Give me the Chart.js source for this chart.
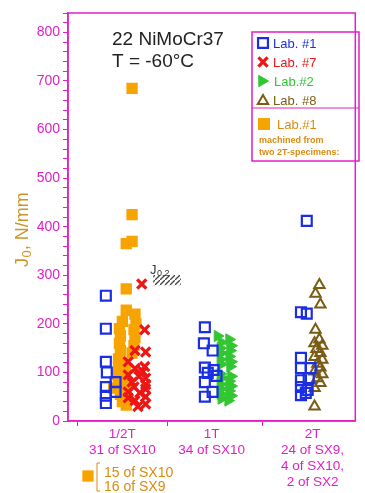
<!DOCTYPE html>
<html>
<head>
<meta charset="utf-8">
<script src="https://cdn.jsdelivr.net/npm/chart.js@4.4.0/dist/chart.umd.min.js"></script>
<style>
  html, body { margin: 0; padding: 0; background: #fff; }
  #wrap { width: 365px; height: 493px; }
</style>
</head>
<body>
<div id="wrap"><canvas id="jChart" width="365" height="493"></canvas></div>
<script>
// specimen groups on the x axis
const groupLabels = [
    ['1/2T', '31 of SX10'],
    ['1T', '34 of SX10'],
    ['2T', '24 of SX9,', '4 of SX10,', '2 of SX2']
];
const groupPos = [56, 148, 252];

// Lab #1 (hollow blue squares)
const lab1X = [39, 39, 39, 40, 49, 39, 49, 39, 39,
    141, 140, 149, 141, 150, 144, 153, 141, 149, 141,
    246, 240, 246, 240, 240, 250, 240, 248, 240, 247, 240, 245];
const lab1J = [258, 190, 122, 100, 80, 70, 60, 52, 37,
    193, 160, 145, 110, 105, 99, 93, 80, 60, 50,
    412, 224, 221, 130, 109, 109, 84, 88, 70, 64, 53, 58];

// Lab #7 (red crosses), 1/2T only
const lab7X = [76, 79, 69, 80, 62, 79, 69, 62, 73, 80, 66, 80, 68, 80, 62, 74, 80, 62, 69, 80, 72, 77];
const lab7J = [282, 188, 145, 142, 122, 112, 108, 95, 92, 88, 80, 75, 70, 66, 60, 58, 50, 48, 42, 35, 30, 102];

// Lab #2 (green triangles), 1T only
const lab2X = [154, 166, 158, 168, 157, 167, 158, 166, 157, 168, 158, 167,
    157, 168, 158, 166, 157, 168, 158, 166, 157, 168, 158, 165];
const lab2J = [175, 168, 162, 155, 150, 145, 140, 133, 127, 122, 117, 112,
    97, 92, 88, 82, 76, 72, 66, 62, 56, 52, 46, 42];

// Lab #8 (hollow brown triangles), 2T only
const lab8X = [259, 255, 260, 255, 259, 254, 262, 256, 260, 254, 262, 257, 260, 254, 262, 257, 260, 254, 254];
const lab8J = [280, 262, 240, 188, 168, 160, 155, 148, 140, 132, 126, 118, 110, 102, 96, 88, 78, 68, 30];

// Lab #1 machined from two 2T specimens (orange squares), 1/2T
const lab1mX = [66, 66, 66, 60, 60,
    60, 69, 56, 70, 53, 68, 54, 69, 53, 68, 54, 66, 52, 58, 52, 59, 50, 58, 52, 59, 47, 56, 54, 60, 56, 60];
const lab1mJ = [685, 425, 370, 365, 272,
    228, 220, 205, 200, 190, 188, 175, 172, 160, 155, 145, 140, 128, 120, 112, 102, 95, 88, 80, 75, 68, 62, 55, 48, 40, 33];

// J0.2 band
const jBandX = [102];
const jBandRange = [[280, 300]];

const MAGENTA = '#e21fc6';
const BLUE = '#1a2ee6';
const RED = '#ee1515';
const GREEN = '#33c633';
const BROWN = '#7a5c14';
const ORANGE = '#f7a300';
const ORANGE_TXT = '#d98c12';
const FONT = '"Liberation Sans", Arial, sans-serif';

const pts = (xs, ys) => xs.map((x, i) => ({ x: x, y: ys[i] }));

// hatch for the J0.2 band
const hatch = document.createElement('canvas');
hatch.width = 5;
hatch.height = 5;
const hctx = hatch.getContext('2d');
hctx.strokeStyle = '#444';
hctx.lineWidth = 1.3;
hctx.beginPath();
hctx.moveTo(0, 5);
hctx.lineTo(5, 0);
hctx.stroke();
const hatchPattern = hctx.createPattern(hatch, 'repeat');

function sym(ctx, style, color, fill, radius, rotation, bw, x, y) {
    ctx.save();
    ctx.strokeStyle = color;
    ctx.fillStyle = fill;
    ctx.lineWidth = bw;
    Chart.helpers.drawPoint(ctx, { pointStyle: style, radius: radius, rotation: rotation, borderWidth: bw }, x, y);
    ctx.restore();
}

const annotations = {
    id: 'annotations',
    afterDraw(chart) {
        const ctx = chart.ctx;
        const a = chart.chartArea;
        ctx.save();
        // frame
        ctx.strokeStyle = MAGENTA;
        ctx.lineWidth = 1.5;
        ctx.strokeRect(a.left, a.top, a.right - a.left, a.bottom - a.top);

        // y axis title, J with subscript 0
        ctx.save();
        ctx.translate(28, 267);
        ctx.rotate(-Math.PI / 2);
        ctx.fillStyle = '#cf952c';
        ctx.font = '18px ' + FONT;
        ctx.fillText('J', 0, 0);
        let w = ctx.measureText('J').width;
        ctx.font = '13px ' + FONT;
        ctx.fillText('0', w + 0.5, 3);
        w += ctx.measureText('0').width + 0.5;
        ctx.font = '18px ' + FONT;
        ctx.fillText(', N/mm', w, 0);
        ctx.restore();

        // title
        ctx.fillStyle = '#222';
        ctx.font = '19px ' + FONT;
        ctx.textBaseline = 'alphabetic';
        ctx.fillText('22 NiMoCr37', 112, 45);
        ctx.fillText('T = -60°C', 112, 67);

        // legend box
        ctx.strokeStyle = MAGENTA;
        ctx.lineWidth = 1.5;
        ctx.strokeRect(252, 32, 107, 129);
        ctx.beginPath();
        ctx.moveTo(252, 108);
        ctx.lineTo(359, 108);
        ctx.lineWidth = 1;
        ctx.stroke();

        sym(ctx, 'rect', BLUE, 'rgba(0,0,0,0)', 7, 0, 2.2, 263, 43);
        sym(ctx, 'crossRot', RED, RED, 6.5, 0, 3.2, 263, 62);
        sym(ctx, 'triangle', GREEN, GREEN, 6.5, 90, 1, 262, 81);
        sym(ctx, 'triangle', BROWN, 'rgba(0,0,0,0)', 6, 0, 2, 263, 101);
        sym(ctx, 'rect', ORANGE, ORANGE, 8.5, 0, 0, 264, 124);

        ctx.font = '13px ' + FONT;
        ctx.fillStyle = BLUE;
        ctx.fillText('Lab. #1', 273, 48);
        ctx.fillStyle = RED;
        ctx.fillText('Lab. #7', 273, 67);
        ctx.fillStyle = GREEN;
        ctx.fillText('Lab.#2', 274, 86);
        ctx.fillStyle = BROWN;
        ctx.fillText('Lab. #8', 273, 105);
        ctx.fillStyle = ORANGE_TXT;
        ctx.fillText('Lab.#1', 277, 129);
        ctx.font = 'bold 9px ' + FONT;
        ctx.fillText('machined from', 259, 143);
        ctx.fillText('two 2T-specimens:', 259, 155);

        // J0.2 label
        ctx.fillStyle = '#333';
        ctx.font = '13px ' + FONT;
        ctx.fillText('J', 150, 274);
        ctx.font = '9px ' + FONT;
        ctx.fillText('0.2', 157, 276);

        // bottom note
        sym(ctx, 'rect', ORANGE, ORANGE, 8, 0, 0, 88, 476);
        ctx.strokeStyle = ORANGE_TXT;
        ctx.lineWidth = 1;
        ctx.beginPath();
        ctx.moveTo(100, 463);
        ctx.lineTo(97, 463);
        ctx.lineTo(97, 491);
        ctx.lineTo(100, 491);
        ctx.stroke();
        ctx.fillStyle = ORANGE_TXT;
        ctx.font = '14px ' + FONT;
        ctx.fillText('15 of SX10', 104, 477);
        ctx.fillText('16 of SX9', 104, 491);
        ctx.restore();
    }
};

new Chart(document.getElementById('jChart'), {
    type: 'scatter',
    data: {
        datasets: [
            {
                label: 'Lab. #7',
                data: pts(lab7X, lab7J),
                pointStyle: 'crossRot',
                pointRadius: 6.5,
                borderWidth: 3.2,
                borderColor: RED,
                backgroundColor: RED
            },
            {
                label: 'Lab. #1',
                data: pts(lab1X, lab1J),
                pointStyle: 'rect',
                pointRadius: 7,
                borderWidth: 2.2,
                borderColor: BLUE,
                backgroundColor: 'rgba(0,0,0,0)'
            },
            {
                label: 'Lab.#2',
                data: pts(lab2X, lab2J),
                pointStyle: 'triangle',
                pointRotation: 90,
                pointRadius: 6.5,
                borderWidth: 1,
                borderColor: GREEN,
                backgroundColor: GREEN
            },
            {
                label: 'Lab. #8',
                data: pts(lab8X, lab8J),
                pointStyle: 'triangle',
                pointRadius: 6,
                borderWidth: 2,
                borderColor: BROWN,
                backgroundColor: 'rgba(0,0,0,0)'
            },
            {
                label: 'Lab.#1 machined',
                data: pts(lab1mX, lab1mJ),
                pointStyle: 'rect',
                pointRadius: 8,
                borderWidth: 0,
                borderColor: ORANGE,
                backgroundColor: ORANGE
            },
            {
                type: 'bar',
                label: 'J0.2',
                data: jBandX.map((x, i) => ({ x: x, y: jBandRange[i] })),
                backgroundColor: hatchPattern,
                borderWidth: 0,
                barThickness: 27,
                grouped: false
            }
        ]
    },
    options: {
        responsive: false,
        animation: false,
        layout: { padding: { top: 13, right: 1, left: 0, bottom: 0 } },
        plugins: {
            legend: { display: false },
            tooltip: { enabled: false }
        },
        scales: {
            x: {
                type: 'linear',
                min: 0,
                max: 296,
                offset: false,
                afterFit: (scale) => { scale.height = 72; },
                afterBuildTicks: (scale) => {
                    scale.ticks = groupPos.map((v) => ({ value: v }));
                },
                grid: {
                    drawOnChartArea: false,
                    tickLength: 5,
                    color: MAGENTA,
                    tickColor: MAGENTA
                },
                border: { color: MAGENTA, width: 1.5 },
                ticks: {
                    autoSkip: false,
                    maxRotation: 0,
                    padding: 0,
                    color: MAGENTA,
                    font: { family: FONT, size: 13.5, lineHeight: 1.2 },
                    callback: (v, i) => groupLabels[i]
                }
            },
            y: {
                min: 0,
                max: 840,
                afterFit: (scale) => { scale.width = 68; },
                grid: {
                    drawOnChartArea: false,
                    tickLength: 5,
                    color: MAGENTA,
                    tickColor: MAGENTA
                },
                border: { color: MAGENTA, width: 1.5 },
                ticks: {
                    stepSize: 20,
                    autoSkip: false,
                    padding: 3,
                    color: MAGENTA,
                    font: { family: FONT, size: 14 },
                    callback: (v) => (v % 100 === 0 ? v : '')
                }
            }
        }
    },
    plugins: [annotations]
});
</script>
</body>
</html>
